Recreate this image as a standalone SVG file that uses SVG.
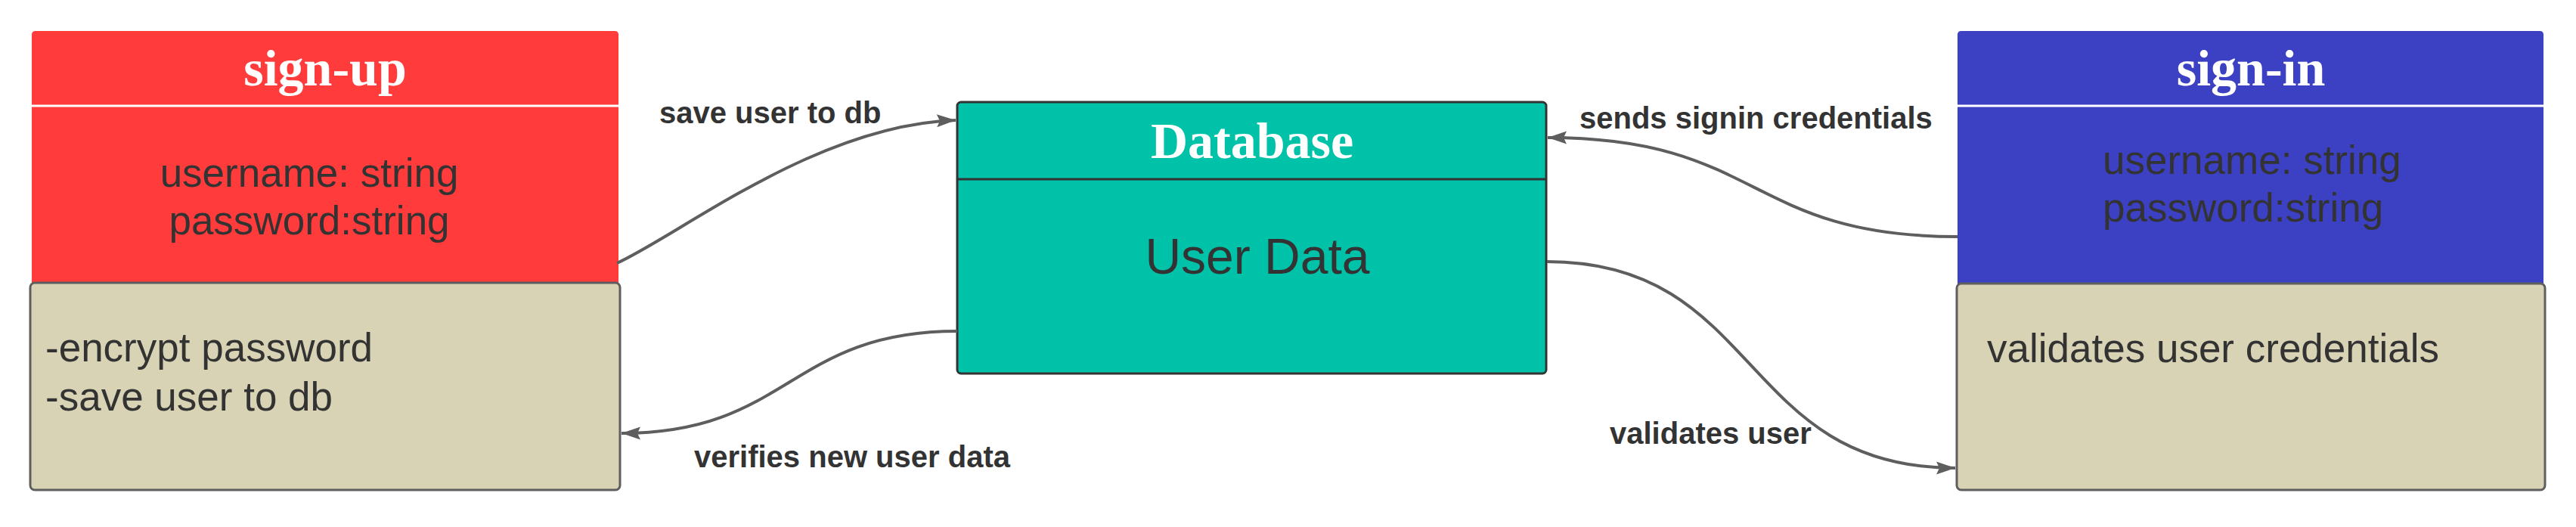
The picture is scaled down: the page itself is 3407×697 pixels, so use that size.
<svg xmlns="http://www.w3.org/2000/svg" width="3407" height="697" viewBox="0 0 3407 697">
<style>
.title{font-family:"Liberation Serif",serif;font-size:68px;font-weight:bold;fill:#ffffff;text-anchor:middle}
.body{font-family:"Liberation Sans",Arial,sans-serif;font-size:53px;fill:#333333}
.lbl{font-family:"Liberation Sans",Arial,sans-serif;font-size:40px;font-weight:bold;fill:#333333}
.note{fill:#d9d3b5;stroke:#5e5e5e;stroke-width:3}
.conn{fill:none;stroke:#5e5e5e;stroke-width:4;marker-end:url(#arr)}
</style>
<defs>
<marker id="arr" markerUnits="userSpaceOnUse" markerWidth="30" markerHeight="20" viewBox="-26 -10 30 20" refX="0" refY="0" orient="auto">
<path d="M0,0 L-25,-8.5 L-21,0 L-25,8.5 Z" fill="#5e5e5e"/>
</marker>
</defs>
<rect width="3407" height="697" fill="#ffffff"/>
<g id="sign-up">
<path d="M42,46 Q42,41 47,41 L813,41 Q818,41 818,46 L818,376 L42,376 Z" fill="#ff3b3b"/>
<line x1="42" y1="140" x2="818" y2="140" stroke="#ffffff" stroke-width="3"/>
<text class="title" x="430" y="113">sign-up</text>
<text class="body" x="409" y="247" text-anchor="middle">username: string</text>
<text class="body" x="409" y="310" text-anchor="middle">password:string</text>
<rect class="note" x="40" y="374" width="780" height="274" rx="6"/>
<text class="body" x="60" y="478">-encrypt password</text>
<text class="body" x="60" y="543">-save user to db</text>
</g>
<g id="database">
<rect x="1266" y="135" width="779" height="359" rx="5" fill="#00c2a8" stroke="#333333" stroke-width="3"/>
<line x1="1266" y1="237" x2="2045" y2="237" stroke="#333333" stroke-width="3"/>
<text class="title" x="1656" y="209">Database</text>
<text class="body" x="1663" y="362" text-anchor="middle" style="font-size:66px">User Data</text>
</g>
<g id="sign-in">
<path d="M2589,46 Q2589,41 2594,41 L3359,41 Q3364,41 3364,46 L3364,377 L2589,377 Z" fill="#3c40c3"/>
<line x1="2589" y1="140" x2="3364" y2="140" stroke="#ffffff" stroke-width="3"/>
<text class="title" x="2977" y="113">sign-in</text>
<text class="body" x="2781" y="230">username: string</text>
<text class="body" x="2781" y="293">password:string</text>
<rect class="note" x="2588" y="375" width="778" height="273" rx="6"/>
<text class="body" x="2628" y="479">validates user credentials</text>
</g>
<g id="connectors">
<path class="conn" d="M816,348 C900,310 1080,165 1264,159"/>
<text class="lbl" x="872" y="163">save user to db</text>
<path class="conn" d="M1266,438 C1044,438 1044,573 822,573"/>
<text class="lbl" x="918" y="618">verifies new user data</text>
<path class="conn" d="M2589,313 C2310,313 2330,182 2047,182"/>
<text class="lbl" x="2089" y="170">sends signin credentials</text>
<path class="conn" d="M2046,346 C2330,346 2300,619 2586,619"/>
<text class="lbl" x="2129" y="587">validates user</text>
</g>
</svg>
